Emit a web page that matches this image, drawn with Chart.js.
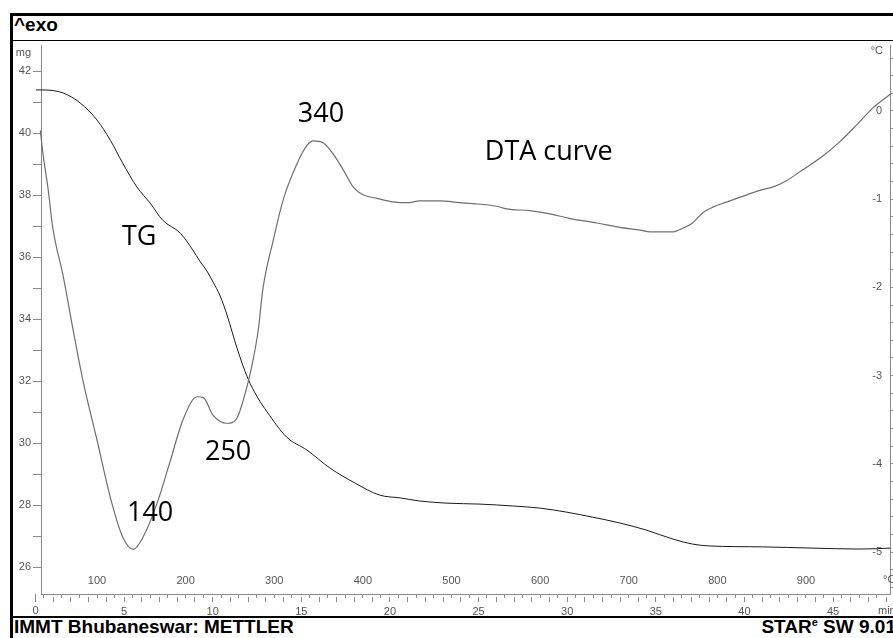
<!DOCTYPE html>
<html>
<head>
<meta charset="utf-8">
<script src="https://cdn.jsdelivr.net/npm/chart.js@4.4.1/dist/chart.umd.min.js"></script>
<style>
  html, body { margin: 0; padding: 0; background: #fff; width: 893px; height: 638px; overflow: hidden; }
  #wrap { position: relative; width: 893px; height: 638px; }
  .bar { position: absolute; background: #000; }
  .txt { position: absolute; font-family: "Liberation Sans", Arial, sans-serif; font-weight: bold; color: #000; white-space: nowrap; line-height: 22px; }
  .txt sup { font-size: 11px; line-height: 0; vertical-align: 7px; }
  canvas { position: absolute; left: 13px; top: 41px; }
</style>
</head>
<body>
<div id="wrap">
  <div class="bar" style="left:10px;top:13px;width:883px;height:3px"></div>
  <div class="bar" style="left:10px;top:13px;width:3px;height:625px"></div>
  <div class="bar" style="left:13px;top:40px;width:880px;height:1px"></div>
  <div class="bar" style="left:13px;top:616px;width:880px;height:2px"></div>
  <div class="txt" style="left:14px;top:14px;font-size:19px">^exo</div>
  <div class="txt" style="left:14px;top:616px;font-size:19px">IMMT Bhubaneswar: METTLER</div>
  <div class="txt" style="right:-3px;top:616px;font-size:19px">STAR<sup>e</sup> SW 9.01</div>
  <canvas id="c" width="880" height="575"></canvas>
</div>
<script>
// sample temperature (°C) and DTA signal (°C)
var dtaTemp = [30, 32, 36, 39, 45, 50, 62, 73, 84, 100, 115, 129, 141, 152, 168, 182, 197, 213, 220, 231, 247, 258, 265, 273, 282, 287, 299, 310, 326, 337, 344, 355, 366, 378, 389, 400, 416, 434, 450, 464, 487, 509, 524, 551, 562, 588, 608, 634, 664, 690, 713, 724, 750, 761, 772, 784, 795, 811, 825, 848, 863, 878, 896, 919, 938, 957, 975, 995];
var dtaValue = [0.20, 0.13, -0.22, -0.48, -0.90, -1.32, -1.88, -2.48, -3.05, -3.73, -4.38, -4.83, -4.97, -4.83, -4.44, -3.99, -3.50, -3.24, -3.25, -3.45, -3.54, -3.48, -3.28, -2.97, -2.48, -2.03, -1.46, -1.01, -0.59, -0.39, -0.34, -0.36, -0.48, -0.67, -0.86, -0.95, -0.99, -1.03, -1.04, -1.02, -1.02, -1.04, -1.05, -1.08, -1.11, -1.13, -1.16, -1.22, -1.27, -1.32, -1.35, -1.37, -1.37, -1.33, -1.27, -1.15, -1.09, -1.03, -0.98, -0.90, -0.86, -0.79, -0.67, -0.51, -0.35, -0.16, 0.03, 0.19];

// sample temperature (°C) and TG mass (mg)
var tgTemp = [31, 39, 62, 81, 100, 115, 129, 145, 160, 174, 194, 208, 216, 224, 231, 239, 247, 258, 270, 281, 292, 314, 337, 363, 391, 419, 442, 464, 495, 532, 569, 600, 630, 659, 690, 720, 750, 772, 791, 851, 908, 961, 995];
var tgMass = [41.39, 41.39, 41.29, 40.97, 40.42, 39.77, 39.03, 38.26, 37.74, 37.19, 36.77, 36.23, 35.87, 35.55, 35.19, 34.74, 34.10, 33.06, 32.10, 31.48, 31.00, 30.19, 29.77, 29.19, 28.71, 28.32, 28.23, 28.13, 28.06, 28.03, 27.97, 27.90, 27.77, 27.61, 27.42, 27.19, 26.90, 26.74, 26.68, 26.65, 26.61, 26.58, 26.61];

// axis ranges: 20 K/min heating from 30 °C
var tempRange = [36.8, 994.8];
var timeRange = [0.313, 48.21];
var massRange = [25.13, 42.84];
var dtaRange = [-5.476, 0.748];
var dtaLabels = [0, -1, -2, -3, -4, -5];

var notes = [
	{ text: '340', t: 352.7, m: 40.35, align: 'center' },
	{ text: 'DTA curve', t: 537.6, m: 39.13, align: 'left' },
	{ text: 'TG', t: 128.2, m: 36.39, align: 'left' },
	{ text: '250', t: 221.8, m: 29.45, align: 'left' },
	{ text: '140', t: 133.8, m: 27.48, align: 'left' }
];

function pts(xs, ys) {
	var out = [];
	for (let i = 0; i < xs.length; i++) out.push({ x: xs[i], y: ys[i] });
	return out;
}

var tickFont = { family: '"Liberation Sans", Arial, sans-serif', size: 11 };
var tickCol = '#555',
	lineCol = '#8a8a8a';

function noPad(s) {
	s.paddingTop = 0;
	s.paddingBottom = 0;
	s.paddingLeft = 0;
	s.paddingRight = 0;
}

const extras = {
	id: 'extras',
	afterDraw(chart) {
		const ctx = chart.ctx;
		const sx = chart.scales.x, sy = chart.scales.y, st = chart.scales.xt, sr = chart.scales.y2;
		ctx.save();
		ctx.fillStyle = '#000';
		ctx.font = '27px "Open Sans", "Noto Sans", sans-serif';
		ctx.textBaseline = 'alphabetic';
		notes.forEach(n => {
			ctx.textAlign = n.align;
			ctx.fillText(n.text, sx.getPixelForValue(n.t), sy.getPixelForValue(n.m));
		});
		// right axis labels sit inside the plot
		ctx.font = '11px "Liberation Sans", Arial, sans-serif';
		ctx.fillStyle = tickCol;
		ctx.textBaseline = 'middle';
		ctx.textAlign = 'right';
		dtaLabels.forEach(v => {
			ctx.fillText(String(v), sr.left - 8, sr.getPixelForValue(v));
		});
		// units and the time origin
		ctx.fillText('mg', sy.right - 10, sy.top + 8);
		ctx.fillText('°C', chart.chartArea.right - 7, chart.chartArea.top + 6);
		ctx.textAlign = 'left';
		ctx.fillText('°C', chart.chartArea.right - 7, sx.top - 14);
		ctx.fillText('min', st.right - 12, st.top + 14);
		const x0 = st.getPixelForValue(0);
		ctx.textAlign = 'center';
		ctx.fillText('0', x0, st.top + 14);
		ctx.strokeStyle = lineCol;
		ctx.lineWidth = 1;
		ctx.beginPath();
		ctx.moveTo(Math.round(x0) + 0.5, sx.top);
		ctx.lineTo(Math.round(x0) + 0.5, st.top + 5);
		ctx.stroke();
		ctx.restore();
	}
};

new Chart(document.getElementById('c').getContext('2d'), {
	type: 'line',
	data: {
		datasets: [
			{
				label: 'DTA',
				data: pts(dtaTemp, dtaValue),
				xAxisID: 'x',
				yAxisID: 'y2',
				borderColor: '#6f6f6f',
				borderWidth: 1.2,
				pointRadius: 0,
				clip: false,
				cubicInterpolationMode: 'monotone'
			},
			{
				label: 'TG',
				data: pts(tgTemp, tgMass),
				xAxisID: 'x',
				yAxisID: 'y',
				borderColor: '#1a1a1a',
				borderWidth: 1,
				pointRadius: 0,
				clip: false,
				cubicInterpolationMode: 'monotone'
			}
		]
	},
	options: {
		responsive: false,
		animation: false,
		devicePixelRatio: 1,
		layout: { padding: { top: 4, left: 0, right: 0, bottom: 0 } },
		plugins: {
			legend: { display: false },
			tooltip: { enabled: false }
		},
		scales: {
			x: {
				type: 'linear',
				position: 'bottom',
				weight: 0,
				min: tempRange[0],
				max: tempRange[1],
				border: { color: lineCol },
				grid: { drawOnChartArea: false, tickLength: 4, color: lineCol },
				ticks: {
					stepSize: 20,
					includeBounds: false,
					autoSkip: false,
					maxRotation: 0,
					mirror: true,
					padding: 6,
					font: tickFont,
					color: tickCol,
					callback: v => (Math.round(v) % 100 === 0 ? String(Math.round(v)) : '')
				},
				afterFit: s => { s.height = 3; noPad(s); }
			},
			xt: {
				type: 'linear',
				position: 'bottom',
				weight: 1,
				min: timeRange[0],
				max: timeRange[1],
				border: { display: false },
				grid: { drawOnChartArea: false, tickLength: 5, color: lineCol },
				ticks: {
					stepSize: 1,
					includeBounds: false,
					autoSkip: false,
					maxRotation: 0,
					padding: 3,
					font: tickFont,
					color: tickCol,
					callback: v => (Math.round(v) % 5 === 0 ? String(Math.round(v)) : '')
				},
				afterFit: s => { s.height = 19; noPad(s); }
			},
			y: {
				type: 'linear',
				position: 'left',
				min: massRange[0],
				max: massRange[1],
				border: { color: lineCol },
				grid: { drawOnChartArea: false, tickLength: 8, color: lineCol },
				ticks: {
					stepSize: 1,
					includeBounds: false,
					autoSkip: false,
					padding: 2,
					font: tickFont,
					color: tickCol,
					callback: v => (Math.round(v) % 2 === 0 ? String(Math.round(v)) : '')
				},
				afterFit: s => { s.width = 28; noPad(s); }
			},
			y2: {
				type: 'linear',
				position: 'right',
				min: dtaRange[0],
				max: dtaRange[1],
				border: { color: lineCol },
				grid: { drawOnChartArea: false, tickLength: 3, color: lineCol },
				ticks: {
					stepSize: 0.2,
					includeBounds: false,
					autoSkip: false,
					font: tickFont,
					color: tickCol,
					callback: () => ''
				},
				afterFit: s => { s.width = 3; noPad(s); }
			}
		}
	},
	plugins: [extras]
});
</script>
</body>
</html>
